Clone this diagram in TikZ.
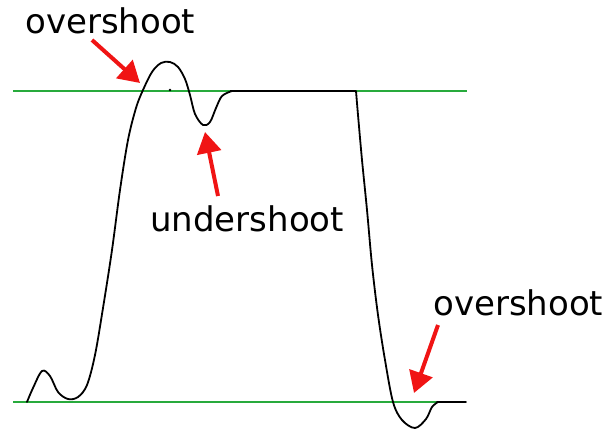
\documentclass[tikz,border=0pt]{standalone}
\usepackage{fontspec}
\setmainfont{DejaVu Sans}
\usetikzlibrary{arrows.meta}
\definecolor{lvl}{RGB}{40,170,60}
\definecolor{arr}{RGB}{240,20,20}
\tikzset{
  level/.style={draw=lvl, line width=1.6pt},
  wave/.style={draw=black, line width=1.8pt, line join=round, line cap=round},
  flat/.style={draw=black, line width=2.8pt},
  pointer/.style={draw=arr, line width=4pt, -{Triangle[length=21pt,width=24pt]}},
  lbl/.style={inner sep=0pt, anchor=base west, font=\fontsize{34}{38}\selectfont}
}
\begin{document}
\begin{tikzpicture}[x=1pt,y=-1pt]
\useasboundingbox (0,0) rectangle (604,434);
% level lines
\draw[level] (13,91) -- (467,91);
\draw[level] (13,402) -- (437,402);
% waveform
\draw[wave] plot[smooth, tension=0.55] coordinates {
 (27,402) (33,388) (42,371) (50,376) (58,392) (68,399) (78,397) (87,385)
 (95,355) (103,308) (112,250) (120,190) (128,140) (136,108) (143,90)
 (152,72) (161,63) (170,62) (178,67) (185,79) (190,95) (195,114)
 (203,125) (210,122) (216,108) (222,96) (232,91)};
\draw[flat] (230,91) -- (356,91);
\draw[wave] plot[smooth, tension=0.55] coordinates {
 (356,91) (358,115) (362,160) (367,210) (372,265) (378,315) (385,360)
 (393,402) (402,420) (415,428) (426,419) (432,407) (438,402)};
\draw[wave] (437,402) -- (466,402);
\fill (170,90) circle (1.3pt);
% labels
\node[lbl] (ov1) at (25,33) {overshoot};
\node[lbl] (un) at (150,231) {undershoot};
\node[lbl] (ov2) at (433,315) {overshoot};
% arrows
\coordinate (t1) at (92,40);  \coordinate (h1) at (140,83);
\coordinate (t2) at (218,196); \coordinate (h2) at (205,132);
\coordinate (t3) at (438,325); \coordinate (h3) at (414,393);
\draw[pointer] (t1) -- (h1);
\draw[pointer] (t2) -- (h2);
\draw[pointer] (t3) -- (h3);
\end{tikzpicture}
\end{document}
